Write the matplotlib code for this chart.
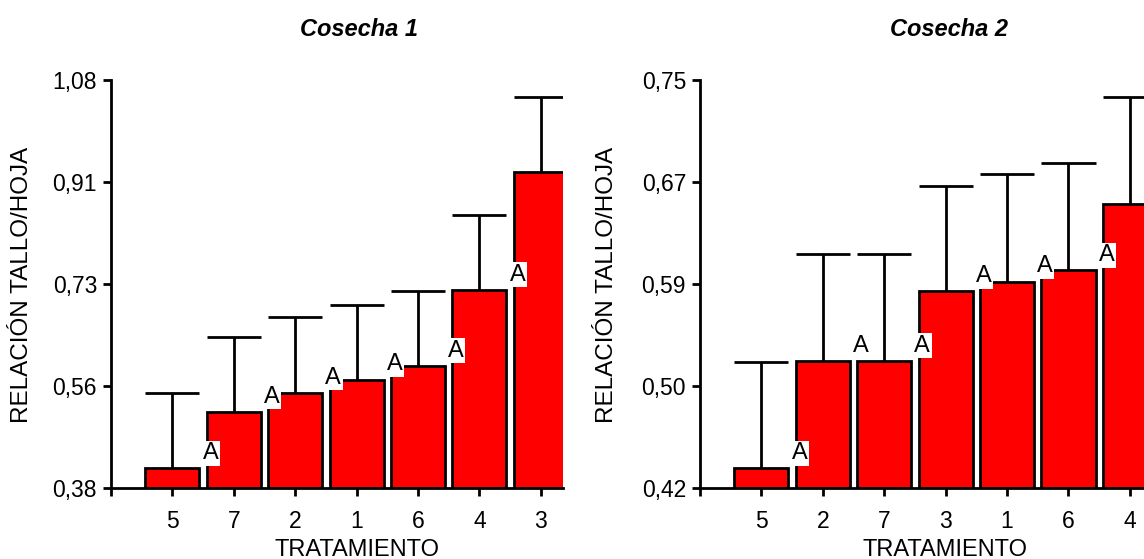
import matplotlib
matplotlib.use("Agg")
import matplotlib.pyplot as plt

plt.rcParams['font.family'] = ['Liberation Sans', 'DejaVu Sans']

# Cosecha 1
trat_c1 = ['5', '7', '2', '1', '6', '4', '3']
media_c1 = [0.414, 0.511, 0.543, 0.566, 0.590, 0.720, 0.923]
error_c1 = [0.129, 0.128, 0.131, 0.128, 0.128, 0.129, 0.127]
letras_c1 = ['A', 'A', 'A', 'A', 'A', 'A', 'A']
yticks_c1 = [0.38, 0.555, 0.73, 0.905, 1.08]
ylabels_c1 = ['0,38', '0,56', '0,73', '0,91', '1,08']

# Cosecha 2
trat_c2 = ['5', '2', '7', '3', '1', '6', '4']
media_c2 = [0.436, 0.523, 0.523, 0.579, 0.587, 0.596, 0.650]
error_c2 = [0.086, 0.086, 0.086, 0.085, 0.087, 0.087, 0.086]
letras_c2 = ['A', 'A', 'A', 'A', 'A', 'A', 'A']
yticks_c2 = [0.42, 0.5025, 0.585, 0.6675, 0.75]
ylabels_c2 = ['0,42', '0,50', '0,59', '0,67', '0,75']

fig = plt.figure(figsize=(11.44, 5.59), dpi=100)
ax1 = fig.add_axes([0.0970, 0.1270, 0.3951, 0.7299])
ax2 = fig.add_axes([0.6119, 0.1270, 0.3951, 0.7299])

ancho = 0.88


def panel(ax, trat, media, error, letras, yticks, ylabels):
    x = list(range(1, len(trat) + 1))
    base = yticks[0]
    alto = [m - base for m in media]
    ax.bar(x, alto, bottom=base, width=ancho, color='#ff0000',
           edgecolor='black', linewidth=2, zorder=2)
    tope = [m + e for m, e in zip(media, error)]
    ax.vlines(x, media, tope, color='black', linewidth=2, zorder=1)
    ax.hlines(tope, [i - ancho / 2 for i in x], [i + ancho / 2 for i in x],
              color='black', linewidth=2, zorder=1)
    dy = (yticks[-1] - yticks[0]) * 0.037
    # letters sit at the right shoulder of each bar; the last one falls outside
    for i, m, l in zip(x, media, letras):
        if i + 0.62 > 7.36:
            continue
        ax.text(i + 0.62, m + dy, l, fontsize=17, ha='center', va='center',
                zorder=3,
                bbox=dict(facecolor='white', edgecolor='none', pad=1.0))
    ax.set_xlim(0, 7.36)
    ax.set_ylim(yticks[0], yticks[-1])
    ax.set_xticks([0] + x)
    ax.set_xticklabels([''] + trat, fontsize=16.5)
    ax.set_yticks(yticks)
    ax.set_yticklabels(ylabels, fontsize=16.5)
    for s in ['top', 'right']:
        ax.spines[s].set_visible(False)
    for s in ['left', 'bottom']:
        ax.spines[s].set_linewidth(2)
    ax.tick_params(axis='both', direction='out', width=2, length=6, pad=4)
    ax.tick_params(axis='x', pad=10)


panel(ax1, trat_c1, media_c1, error_c1, letras_c1, yticks_c1, ylabels_c1)
panel(ax2, trat_c2, media_c2, error_c2, letras_c2, yticks_c2, ylabels_c2)

fig.text(359 / 1144, 1 - 30 / 559, 'Cosecha 1', fontsize=17, fontweight='bold',
         fontstyle='italic', ha='center', va='center')
fig.text(949 / 1144, 1 - 30 / 559, 'Cosecha 2', fontsize=17, fontweight='bold',
         fontstyle='italic', ha='center', va='center')

for xc in [22, 607]:
    fig.text(xc / 1144, 1 - 285 / 559, 'RELACIÓN TALLO/HOJA', fontsize=17.5,
             rotation=90, ha='center', va='center')
for xc in [357, 945]:
    fig.text(xc / 1144, 1 - 550 / 559, 'TRATAMIENTO', fontsize=17,
             ha='center', va='center')

fig.savefig('out.png', dpi=100)
